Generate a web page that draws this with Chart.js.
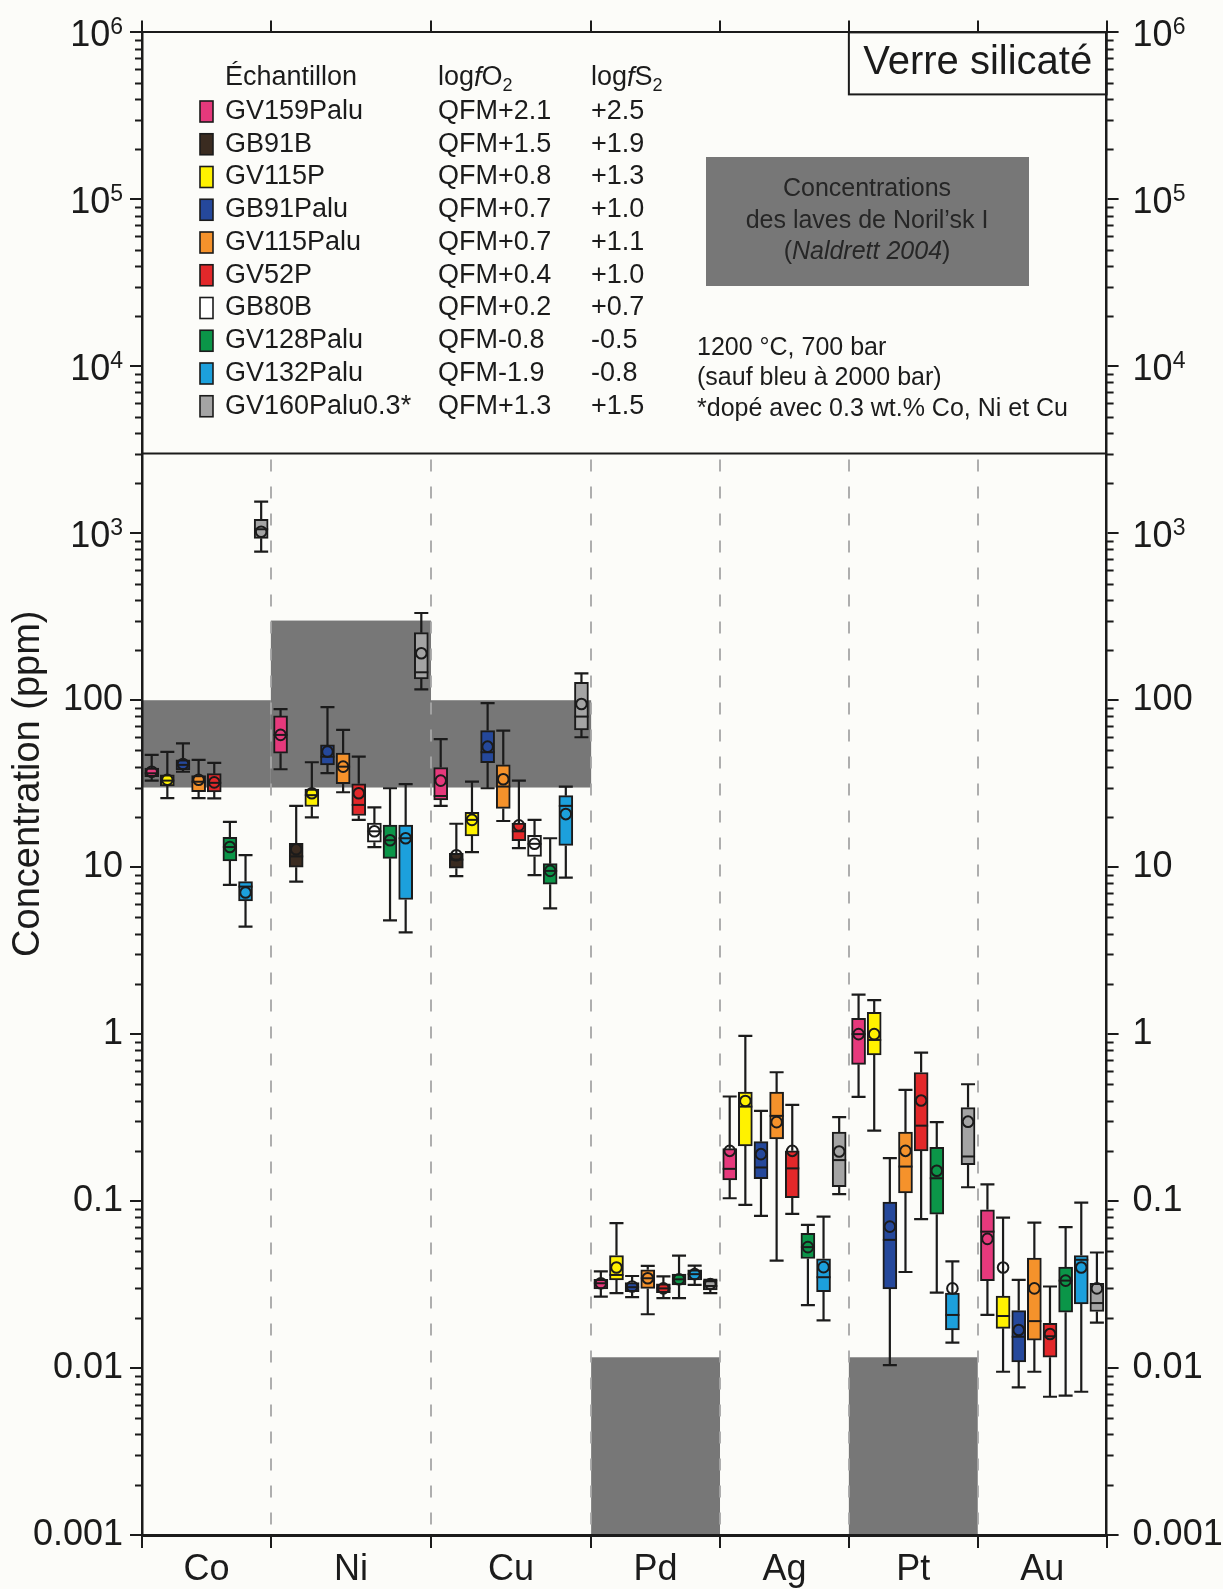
<!DOCTYPE html>
<html lang="fr">
<head>
<meta charset="utf-8">
<title>Verre silicaté</title>
<script src="https://cdn.jsdelivr.net/npm/chart.js@4.4.1/dist/chart.umd.min.js"></script>
<style>
  html, body { margin: 0; padding: 0; background: #fcfcf9; }
  canvas { display: block; }
</style>
</head>
<body>
<canvas id="chartVerre" width="1223" height="1589"></canvas>
<script>
const elements = ['Co', 'Ni', 'Cu', 'Pd', 'Ag', 'Pt', 'Au'];
const samples = ['GV159Palu', 'GB91B', 'GV115P', 'GB91Palu', 'GV115Palu', 'GV52P', 'GB80B', 'GV128Palu', 'GV132Palu', 'GV160Palu0.3*'];
const logfO2 = ['QFM+2.1', 'QFM+1.5', 'QFM+0.8', 'QFM+0.7', 'QFM+0.7', 'QFM+0.4', 'QFM+0.2', 'QFM-0.8', 'QFM-1.9', 'QFM+1.3'];
const logfS2 = ['+2.5', '+1.9', '+1.3', '+1.0', '+1.1', '+1.0', '+0.7', '-0.5', '-0.8', '+1.5'];
const colors = ['#e6397c', '#3a2b20', '#fff200', '#25489b', '#f5922b', '#e3282a', '#ffffff', '#0b9548', '#1ca0dc', '#a4a4a4'];

// par élément (Co Ni Cu Pd Ag Pt Au) : [min, q1, médiane, q3, max, moyenne] en ppm, null = pas de donnée
const GV159Palu = [
  [33, 34.8, 36.5, 39.2, 47, 37.3],
  [38.6, 48.2, 62, 80.5, 88.4, 62],
  [23.3, 25.3, 26.7, 39.5, 58.4, 33],
  [0.0268, 0.0298, 0.0322, 0.034, 0.0379, 0.0322],
  [0.104, 0.134, 0.156, 0.206, 0.423, 0.2],
  [0.421, 0.659, 1.0, 1.245, 1.724, 1.0],
  [0.0208, 0.0334, 0.0656, 0.0886, 0.126, 0.0594]
];
const GB91B = [
  null,
  [8.2, 10, 11.6, 13.9, 23.3, 12.8],
  [8.85, 9.85, 11.1, 12.1, 18.2, 11.8],
  null, null, null, null
];
const GV115P = [
  [25.9, 30.7, 33, 35.7, 49, 33.4],
  [19.9, 23.1, 27, 29.4, 42.5, 27.7],
  [12.3, 15.4, 19.2, 21.3, 32.5, 19.2],
  [0.0281, 0.0337, 0.0361, 0.0472, 0.0738, 0.04],
  [0.0949, 0.214, 0.368, 0.449, 0.975, 0.398],
  [0.264, 0.75, 0.923, 1.353, 1.6, 1.0],
  [0.0095, 0.0173, 0.0205, 0.027, 0.0796, 0.04]
];
const GB91Palu = [
  [37.3, 38.3, 41, 43.9, 55.2, 41.5],
  [36.6, 41, 45.9, 54, 90.8, 49.2],
  [29.7, 42.2, 48.8, 65.8, 96, 52.7],
  [0.0266, 0.0287, 0.0305, 0.0325, 0.0356, 0.0308],
  [0.0815, 0.136, 0.159, 0.227, 0.347, 0.191],
  [0.0104, 0.0298, 0.0586, 0.0985, 0.181, 0.0703],
  [0.00767, 0.0109, 0.0154, 0.0221, 0.0337, 0.0169]
];
const GV115Palu = [
  [25.9, 28.3, 32.5, 35.4, 43.9, 33.4],
  [28.1, 31.6, 40, 48.2, 66.4, 40],
  [18.9, 22.5, 30.4, 41, 65.8, 33.6],
  [0.021, 0.03, 0.0345, 0.0388, 0.0409, 0.0345],
  [0.044, 0.236, 0.324, 0.449, 0.591, 0.297],
  [0.0376, 0.112, 0.161, 0.259, 0.463, 0.2],
  [0.0095, 0.0147, 0.0191, 0.0455, 0.0743, 0.03]
];
const GV52P = [
  [25.8, 28.2, 32, 36.3, 42.2, 32.2],
  [19.2, 20.4, 23.6, 31.6, 45.9, 27.7],
  [13, 14.4, 16.4, 18.4, 33, 17.8],
  [0.0262, 0.0283, 0.03, 0.0319, 0.0354, 0.03],
  [0.0838, 0.105, 0.157, 0.2, 0.377, 0.2],
  [0.078, 0.2, 0.283, 0.589, 0.775, 0.4],
  [0.00673, 0.0116, 0.0155, 0.0185, 0.0308, 0.016]
];
const GB80B = [
  null,
  [13.2, 14.1, 16.4, 18.4, 22.8, 16.4],
  [8.97, 11.6, 13.8, 15.5, 19.2, 13.8],
  null, null, null, null
];
const GV128Palu = [
  [7.83, 10.9, 13.2, 15.1, 18.7, 13.2],
  [4.8, 11.3, 14.5, 17.9, 29.7, 14.5],
  [5.66, 7.9, 9.5, 10.5, 14.9, 9.5],
  [0.0262, 0.0315, 0.034, 0.0365, 0.0472, 0.034],
  [0.0238, 0.0453, 0.053, 0.0642, 0.072, 0.053],
  [0.0283, 0.0834, 0.137, 0.21, 0.297, 0.152],
  [0.00684, 0.0216, 0.0334, 0.0402, 0.0698, 0.0334]
];
const GV132Palu = [
  [4.4, 6.28, 7.65, 8.2, 11.8, 7.05],
  [4.07, 6.4, 14.9, 17.9, 31.4, 14.9],
  [8.65, 13.5, 23.3, 26.8, 30.4, 20.8],
  [0.0315, 0.0337, 0.0365, 0.0388, 0.0411, 0.0365],
  [0.0193, 0.0287, 0.035, 0.0451, 0.0807, 0.0402],
  [0.0142, 0.0169, 0.0208, 0.0281, 0.0435, 0.03],
  [0.00721, 0.0242, 0.0445, 0.0472, 0.098, 0.04]
];
const GV160Palu03 = [
  [776, 933, 1057, 1213, 1546, 1022],
  [116, 134, 147, 254, 333, 191],
  [60, 66.4, 79.8, 128, 145, 95],
  [0.0281, 0.0294, 0.031, 0.0334, 0.0337, 0.0319],
  [0.11, 0.122, 0.176, 0.259, 0.318, 0.198],
  [0.121, 0.165, 0.185, 0.363, 0.501, 0.299],
  [0.0187, 0.0218, 0.0245, 0.0322, 0.0492, 0.03]
];
const sampleData = [GV159Palu, GB91B, GV115P, GB91Palu, GV115Palu, GV52P, GB80B, GV128Palu, GV132Palu, GV160Palu03];

// concentrations des laves de Noril'sk I (Naldrett 2004)
const norilskLow = [30, 30, 30, 0.001, null, 0.001, null];
const norilskHigh = [100, 300, 100, 0.0116, null, 0.0116, null];

const yTickValues = [0.001, 0.01, 0.1, 1, 10, 100, 1e3, 1e4, 1e5, 1e6];
const yTickLabels = ['0.001', '0.01', '0.1', '1', '10', '100', '10^3', '10^4', '10^5', '10^6'];
const panelLimit = 3000; // au-dessus : cadre de légende

const panelTitle = 'Verre silicaté';
const norilskText = ['Concentrations', 'des laves de Noril\u2019sk I'];
const conditions = ['1200 °C, 700 bar', '(sauf bleu à 2000 bar)', '*dopé avec 0.3 wt.% Co, Ni et Cu'];

const ink = '#1b1b1b';
const family = "'Liberation Sans', Arial, Helvetica, sans-serif";
Chart.defaults.font.family = family;
Chart.defaults.color = ink;

// position des boîtes : une case par échantillon présent
const lead = 0.62;
const bounds = [0];
const boxPos = sampleData.map(() => []);
elements.forEach((el, e) => {
  const start = bounds[bounds.length - 1];
  let i = 0;
  sampleData.forEach((d, s) => {
    if (d[e]) { boxPos[s][e] = start + lead + i; i++; }
  });
  bounds.push(start + i - 1 + 2 * lead);
});
const total = bounds[bounds.length - 1];
const centers = elements.map((el, e) => (bounds[e] + bounds[e + 1]) / 2);

const boxSets = samples.map((name, s) => ({
  type: 'bar',
  label: name,
  data: elements.map((el, e) => sampleData[s][e]
    ? {x: boxPos[s][e], y: [sampleData[s][e][1], sampleData[s][e][3]], stats: sampleData[s][e]}
    : null).filter(Boolean),
  backgroundColor: colors[s],
  borderColor: ink,
  borderWidth: 2,
  borderSkipped: false,
  barThickness: 14,
  grouped: false,
  order: 2
}));

const meanPoints = [];
sampleData.forEach((d, s) => d.forEach((st, e) => {
  if (st) meanPoints.push({x: boxPos[s][e], y: st[5]});
}));

const meanSet = {
  type: 'scatter',
  label: 'Moyenne',
  data: meanPoints,
  pointRadius: 5.3,
  pointBorderWidth: 2,
  pointBackgroundColor: 'rgba(0,0,0,0)',
  pointBorderColor: ink,
  order: 1
};

function textRuns(ctx, x, y, parts) {
  parts.forEach(p => {
    ctx.font = (p.italic ? 'italic ' : '') + p.size + 'px ' + family;
    ctx.fillText(p.t, x, y + (p.dy || 0));
    x += ctx.measureText(p.t).width;
  });
}
function runsWidth(ctx, parts) {
  let w = 0;
  parts.forEach(p => {
    ctx.font = (p.italic ? 'italic ' : '') + p.size + 'px ' + family;
    w += ctx.measureText(p.t).width;
  });
  return w;
}

const decorations = {
  id: 'decorations',
  beforeDraw(chart) {
    const {ctx, chartArea: a, scales: {x, y}} = chart;
    ctx.save();
    ctx.fillStyle = '#fcfcf9';
    ctx.fillRect(0, 0, chart.width, chart.height);
    const ySep = y.getPixelForValue(panelLimit);
    // zones Noril'sk
    ctx.fillStyle = '#777777';
    elements.forEach((el, e) => {
      if (norilskLow[e] == null) return;
      const x0 = x.getPixelForValue(bounds[e]), x1 = x.getPixelForValue(bounds[e + 1]);
      const y0 = y.getPixelForValue(norilskHigh[e]), y1 = y.getPixelForValue(norilskLow[e]);
      ctx.fillRect(x0, y0, x1 - x0, y1 - y0);
    });
    // séparations entre éléments
    ctx.strokeStyle = 'rgba(165,165,165,0.9)';
    ctx.lineWidth = 2;
    ctx.setLineDash([12, 15]);
    bounds.slice(1, -1).forEach(b => {
      const px = Math.round(x.getPixelForValue(b));
      ctx.beginPath();
      ctx.moveTo(px, ySep + 6);
      ctx.lineTo(px, a.bottom);
      ctx.stroke();
    });
    ctx.setLineDash([]);
    ctx.strokeStyle = ink;
    ctx.beginPath();
    ctx.moveTo(a.left, ySep);
    ctx.lineTo(a.right, ySep);
    ctx.stroke();
    ctx.restore();
  },
  beforeDatasetsDraw(chart) {
    const {ctx, scales: {x, y}} = chart;
    const cap = 7;
    ctx.save();
    ctx.strokeStyle = ink;
    ctx.lineWidth = 2.2;
    sampleData.forEach((d, s) => d.forEach((st, e) => {
      if (!st) return;
      const px = x.getPixelForValue(boxPos[s][e]);
      const lo = y.getPixelForValue(st[0]), q1 = y.getPixelForValue(st[1]);
      const q3 = y.getPixelForValue(st[3]), hi = y.getPixelForValue(st[4]);
      ctx.beginPath();
      ctx.moveTo(px, lo); ctx.lineTo(px, q1);
      ctx.moveTo(px, q3); ctx.lineTo(px, hi);
      ctx.moveTo(px - cap, lo); ctx.lineTo(px + cap, lo);
      ctx.moveTo(px - cap, hi); ctx.lineTo(px + cap, hi);
      ctx.stroke();
    }));
    ctx.restore();
  },
  afterDatasetDraw(chart, args) {
    const ds = chart.data.datasets[args.index];
    if (ds.type !== 'bar') return;
    const {ctx, scales: {y}} = chart;
    ctx.save();
    ctx.strokeStyle = ink;
    ctx.lineWidth = 2;
    args.meta.data.forEach((bar, j) => {
      const my = y.getPixelForValue(ds.data[j].stats[2]);
      ctx.beginPath();
      ctx.moveTo(bar.x - bar.width / 2, my);
      ctx.lineTo(bar.x + bar.width / 2, my);
      ctx.stroke();
    });
    ctx.restore();
  },
  afterDraw(chart) {
    const {ctx, chartArea: a, scales: {x, y}} = chart;
    ctx.save();
    ctx.fillStyle = ink;
    ctx.strokeStyle = ink;

    // petites graduations
    ctx.lineWidth = 2;
    ctx.beginPath();
    for (let n = -3; n < 6; n++) {
      for (let k = 2; k < 10; k++) {
        const py = Math.round(y.getPixelForValue(k * Math.pow(10, n))) + 0.5;
        ctx.moveTo(a.left - 7, py); ctx.lineTo(a.left, py);
        ctx.moveTo(a.right, py); ctx.lineTo(a.right + 7, py);
      }
    }
    ctx.stroke();

    // étiquettes de l'axe y (gauche et droite)
    ctx.textBaseline = 'middle';
    ctx.textAlign = 'left';
    yTickValues.forEach((v, i) => {
      const py = y.getPixelForValue(v);
      const [main, sup] = yTickLabels[i].split('^');
      const parts = sup
        ? [{t: main, size: 36, dy: 4}, {t: sup, size: 23, dy: -5}]
        : [{t: main, size: 36}];
      const w = runsWidth(ctx, parts);
      textRuns(ctx, a.left - 19 - w, py, parts);
      textRuns(ctx, a.right + 26, py, parts);
    });

    // légende des échantillons
    const rowY = i => 111.5 + 32.75 * i;
    ctx.font = '27px ' + family;
    ctx.fillText('Échantillon', 225, 78);
    textRuns(ctx, 438, 78, [{t: 'log', size: 27}, {t: 'f', size: 27, italic: true}, {t: 'O', size: 27}, {t: '2', size: 18, dy: 8}]);
    textRuns(ctx, 591, 78, [{t: 'log', size: 27}, {t: 'f', size: 27, italic: true}, {t: 'S', size: 27}, {t: '2', size: 18, dy: 8}]);
    samples.forEach((name, s) => {
      const ry = rowY(s);
      ctx.fillStyle = colors[s];
      ctx.fillRect(200, ry - 10.5, 13, 21);
      ctx.lineWidth = 1.6;
      ctx.strokeRect(200, ry - 10.5, 13, 21);
      ctx.fillStyle = ink;
      ctx.font = '27px ' + family;
      ctx.fillText(name, 225, ry);
      ctx.fillText(logfO2[s], 438, ry);
      ctx.fillText(logfS2[s], 591, ry);
    });

    // cadre de titre
    const xPt = x.getPixelForValue(bounds[5]);
    ctx.lineWidth = 2;
    ctx.strokeRect(xPt, a.top, a.right - xPt, 62);
    ctx.font = '40px ' + family;
    ctx.textAlign = 'center';
    ctx.fillText(panelTitle, (xPt + a.right) / 2, a.top + 31);

    // encadré Noril'sk
    ctx.fillStyle = '#777777';
    ctx.fillRect(706, 157, 323, 129);
    ctx.fillStyle = '#262626';
    ctx.font = '25px ' + family;
    ctx.fillText(norilskText[0], 867, 189);
    ctx.fillText(norilskText[1], 867, 221);
    const ref = [{t: '(', size: 25}, {t: 'Naldrett 2004', size: 25, italic: true}, {t: ')', size: 25}];
    ctx.textAlign = 'left';
    textRuns(ctx, 867 - runsWidth(ctx, ref) / 2, 252, ref);

    // conditions expérimentales
    ctx.fillStyle = ink;
    ctx.font = '25px ' + family;
    conditions.forEach((t, i) => ctx.fillText(t, 697, 348 + 30.5 * i));
    ctx.restore();
  }
};

const boundaryTicks = bounds.map(v => ({value: v, edge: true}));
const labelTicks = centers.map((v, e) => ({value: v, edge: false, name: elements[e]}));

new Chart(document.getElementById('chartVerre'), {
  type: 'bar',
  data: {datasets: [...boxSets, meanSet]},
  options: {
    responsive: false,
    devicePixelRatio: 1,
    animation: false,
    events: [],
    layout: {padding: 0},
    plugins: {
      legend: {display: false},
      tooltip: {enabled: false},
      title: {display: false}
    },
    scales: {
      x: {
        type: 'linear',
        position: 'bottom',
        min: 0,
        max: total,
        offset: false,
        grid: {
          offset: false,
          drawOnChartArea: false,
          tickLength: 13,
          lineWidth: 2,
          color: ctx => (ctx.tick && ctx.tick.edge) ? ink : 'rgba(0,0,0,0)'
        },
        border: {display: true, width: 3, color: ink},
        ticks: {
          autoSkip: false,
          maxRotation: 0,
          padding: 0,
          color: ink,
          font: {size: 36},
          callback: (v, i, ticks) => ticks[i].name || ''
        },
        afterBuildTicks: s => {
          s.ticks = [...boundaryTicks, ...labelTicks].sort((p, q) => p.value - q.value).map(t => ({...t}));
        },
        afterFit: s => { s.height = 54; }
      },
      x2: {
        type: 'linear',
        position: 'top',
        min: 0,
        max: total,
        offset: false,
        grid: {offset: false, drawOnChartArea: false, tickLength: 12, lineWidth: 2, color: ink},
        border: {display: true, width: 2, color: ink},
        ticks: {display: false},
        afterBuildTicks: s => { s.ticks = boundaryTicks.map(t => ({value: t.value})); },
        afterFit: s => { s.height = 32.4; }
      },
      y: {
        type: 'logarithmic',
        position: 'left',
        min: 0.001,
        max: 1e6,
        grid: {drawOnChartArea: false, tickLength: 12, lineWidth: 2, color: ink},
        border: {display: true, width: 2.5, color: ink},
        ticks: {display: false},
        title: {
          display: true,
          text: 'Concentration (ppm)',
          color: ink,
          font: {size: 38},
          padding: {top: 6, bottom: 0}
        },
        afterBuildTicks: s => { s.ticks = yTickValues.map(v => ({value: v})); },
        afterFit: s => { s.width = 142; }
      },
      y2: {
        type: 'logarithmic',
        position: 'right',
        min: 0.001,
        max: 1e6,
        grid: {drawOnChartArea: false, tickLength: 12, lineWidth: 2, color: ink},
        border: {display: true, width: 2.5, color: ink},
        ticks: {display: false},
        afterBuildTicks: s => { s.ticks = yTickValues.map(v => ({value: v})); },
        afterFit: s => { s.width = 116.4; }
      }
    }
  },
  plugins: [decorations]
});
</script>
</body>
</html>
